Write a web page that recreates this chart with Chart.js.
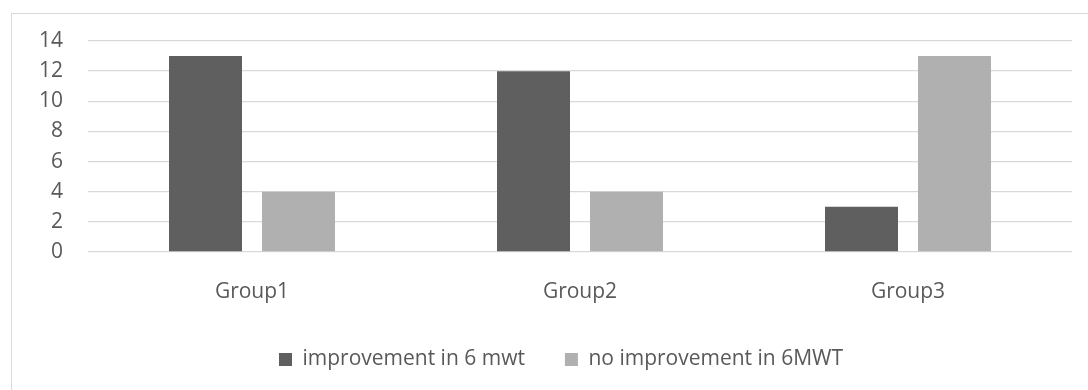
<!DOCTYPE html>
<html>
<head>
<meta charset="utf-8">
<script src="https://cdn.jsdelivr.net/npm/chart.js@4"></script>
<style>
  html, body { margin: 0; padding: 0; background: #fff; overflow: hidden; }
  #box {
    position: absolute;
    left: 11px;
    top: 13px;
    width: 1098px;
    height: 380px;
    border: 1px solid #d9d9d9;
    background: #fff;
  }
</style>
</head>
<body>
<div id="box"><canvas id="chart"></canvas></div>
<script>
// Данные графика
const categories = ['Group1', 'Group2', 'Group3'];
const improvement = [13, 12, 3];
const noImprovement = [4, 4, 13];
const seriesNames = ['improvement in 6 mwt', 'no improvement in 6MWT'];
const yTicks = { min: 0, max: 14, step: 2 };

const textColor = '#595959';
const gridColor = '#d9d9d9';
const font = { family: "'Open Sans', sans-serif", size: 21 };

// Легенда в оригинале центрирована по всей рамке, а не по области графика
const legendShiftPlugin = {
  id: 'legendShift',
  afterLayout(chart) {
    const shift = chart.options.layout.padding.right / 2;
    chart.legend.left += shift;
    chart.legend.right += shift;
  },
};

const ctx = document.getElementById('chart').getContext('2d');
new Chart(ctx, {
  type: 'bar',
  data: {
    labels: categories,
    datasets: [
      {
        label: seriesNames[0],
        data: improvement,
        backgroundColor: '#5f5f5f',
        categoryPercentage: 0.567,
        barPercentage: 0.785,
      },
      {
        label: seriesNames[1],
        data: noImprovement,
        backgroundColor: '#b0b0b0',
        categoryPercentage: 0.567,
        barPercentage: 0.785,
      },
    ],
  },
  options: {
    animation: false,
    responsive: true,
    maintainAspectRatio: false,
    layout: {
      padding: { top: 27, left: 0, right: 38, bottom: 14 },
    },
    plugins: {
      tooltip: { enabled: false },
      legend: {
        position: 'bottom',
        labels: {
          color: textColor,
          font: font,
          boxWidth: 13,
          boxHeight: 13,
          padding: 40,
        },
      },
    },
    scales: {
      x: {
        grid: { display: false, drawTicks: false },
        border: { display: false },
        ticks: { color: textColor, font: font, padding: 27, maxRotation: 0 },
        afterFit: (scale) => {
          scale.height = 57;
        },
      },
      y: {
        min: yTicks.min,
        max: yTicks.max,
        // невидимые засечки дают отступ подписей без лишнего отступа сверху
        grid: { color: gridColor, lineWidth: 1.3, drawTicks: true, tickLength: 25, tickColor: 'transparent' },
        border: { display: false },
        ticks: { stepSize: yTicks.step, color: textColor, font: font, padding: 0 },
        afterFit: (scale) => {
          scale.width = 76;
        },
      },
    },
  },
  plugins: [legendShiftPlugin],
});
</script>
</body>
</html>
